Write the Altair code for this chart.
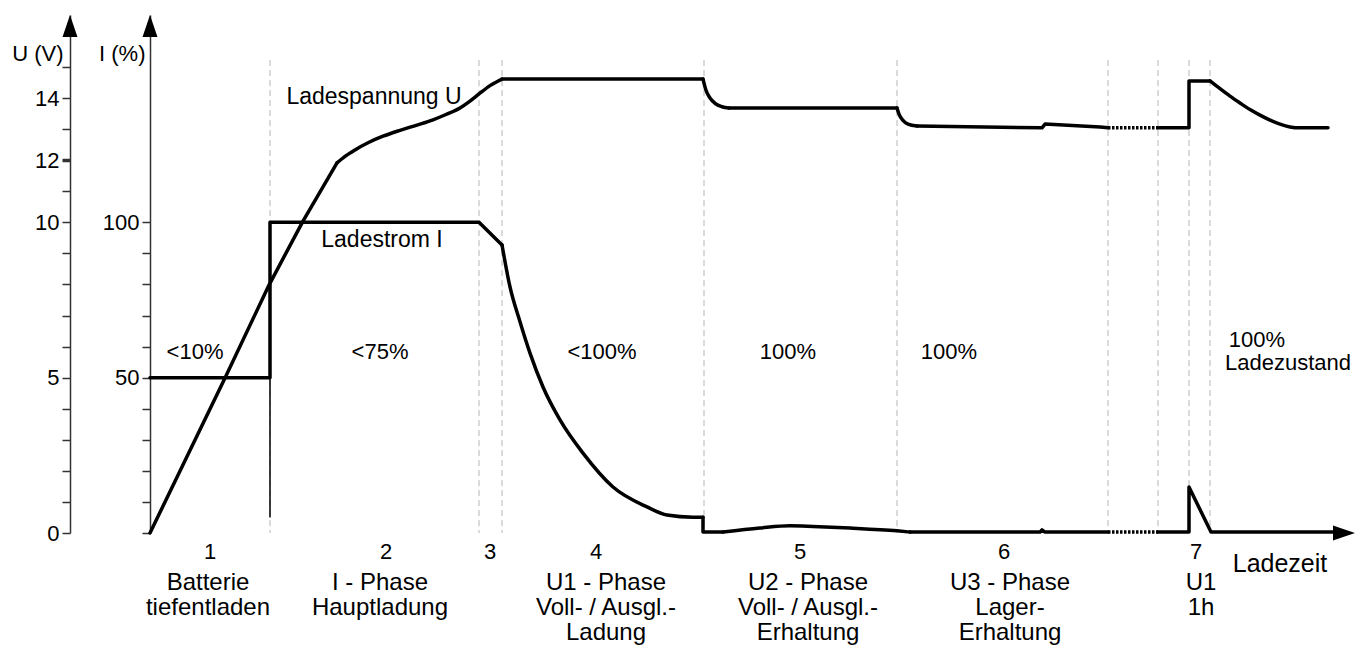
import altair as alt
import pandas as pd

FONT = "Liberation Sans"

# ---- axes geometry in data units (time units / volts) ----
X_MIN, X_MAX = -8.0, 120.5
Y_MAX = 16.672
DASH_TOP = 15.22

# phase boundaries (time units)
BOUNDS = [12.0, 32.9, 35.2, 55.4, 74.7, 95.8, 100.8, 103.9, 106.0]
TICKS_X = [12.0, 32.9, 35.2, 55.4, 74.7, 103.9, 106.0]

# ---- Ladespannung U (V): pieces, "L" = straight, "S" = smooth ----
U_SEGS = [
    ("L", [0.0, 7.5, 11.9, 15.3, 18.7], [0.0, 4.99, 7.98, 10.04, 11.91]),
    ("S", [18.7, 19.5, 20.5, 21.8, 23.3, 25.0, 26.7, 28.3, 29.6, 31.0, 32.0, 32.9, 34.0, 35.2],
          [11.91, 12.12, 12.33, 12.56, 12.77, 12.96, 13.13, 13.30, 13.47, 13.68, 13.90, 14.13, 14.40, 14.61]),
    ("L", [35.2, 55.3], [14.61, 14.61]),
    ("S", [55.3, 55.6, 56.0, 56.5, 57.2, 57.9], [14.61, 14.25, 14.00, 13.83, 13.72, 13.68]),
    ("L", [57.9, 74.7], [13.68, 13.68]),
    ("S", [74.7, 74.9, 75.3, 75.8, 76.7], [13.68, 13.48, 13.28, 13.16, 13.10]),
    ("L", [76.7, 89.2, 89.5, 95.0, 95.8], [13.10, 13.04, 13.16, 13.07, 13.04]),
    ("L", [100.8, 103.9, 103.9, 106.0], [13.04, 13.04, 14.55, 14.55]),
    ("S", [106.0, 107.0, 108.0, 109.0, 110.0, 111.0, 112.0, 113.0, 114.0, 115.0, 117.8],
          [14.55, 14.30, 14.06, 13.84, 13.63, 13.45, 13.29, 13.16, 13.07, 13.04, 13.04]),
]
DOT_X = [95.8, 100.8]
U_DOT = [13.04, 13.04]

# ---- Ladestrom I (%) ----
I_SEGS = [
    ("L", [0.0, 12.0, 12.0, 32.9, 35.2], [50, 50, 100, 100, 92.7]),
    ("S", [35.2, 36.0, 37.0, 38.0, 39.3, 41.0, 43.3, 46.3, 49.7, 51.7, 54.3, 55.3],
          [92.7, 79.2, 68.0, 57.9, 47.0, 36.4, 25.7, 14.8, 8.4, 5.8, 5.1, 5.1]),
    ("L", [55.3, 55.3, 57.3], [5.1, 0.3, 0.3]),
    ("S", [57.3, 61.0, 64.0, 66.3, 70.0, 74.7, 76.0], [0.3, 1.6, 2.3, 2.1, 1.6, 0.7, 0.3]),
    ("L", [76.0, 89.0, 89.2, 89.5, 95.8], [0.3, 0.3, 1.0, 0.3, 0.3]),
    ("L", [100.8, 103.9, 103.9, 106.1, 118.3], [0.3, 0.3, 14.8, 0.3, 0.3]),
]
I_DOT = [0.3, 0.3]
THIN_I = [50, 5]   # thin vertical at first boundary

# ---- texts ----
PCT_TEXT = ["<10%", "<75%", "<100%", "100%", "100%", "100%", "Ladezustand"]
PCT_T = [4.5, 23.0, 45.2, 63.8, 79.9, 110.7, 113.8]
PCT_V = [5.83, 5.83, 5.83, 5.83, 5.83, 6.21, 5.47]

CURVE_TEXT = ["Ladespannung U", "Ladestrom I"]
CURVE_T = [22.4, 23.2]
CURVE_V = [14.03, 9.43]

NUM_TEXT = ["1", "2", "3", "4", "5", "6", "7"]
NUM_T = [6.0, 23.6, 34.0, 44.6, 65.0, 85.4, 104.6]
NUM_V = -0.84

PHASE_TEXT = ["Batterie\ntiefentladen", "I - Phase\nHauptladung", "U1 - Phase\nVoll- / Ausgl.-\nLadung",
              "U2 - Phase\nVoll- / Ausgl.-\nErhaltung", "U3 - Phase\nLager-\nErhaltung", "U1\n1h"]
PHASE_T = [5.8, 23.0, 45.6, 65.8, 86.0, 105.1]
PHASE_V = -1.83

XLABEL_T, XLABEL_V = 113.0, -1.26

xs = alt.Scale(domain=[X_MIN, X_MAX], nice=False, zero=False)
ys = alt.Scale(domain=[0, Y_MAX], nice=False, zero=False)


def seg_frame(segs):
    rows = []
    for k, (mode, xv, yv) in enumerate(segs):
        for j, (a, b) in enumerate(zip(xv, yv)):
            rows.append({"t": a, "v": b, "seg": k, "mode": mode, "i": j})
    return pd.DataFrame(rows)


def plain(xv, yv):
    return pd.DataFrame({"t": xv, "v": yv, "i": list(range(len(xv)))})


u_df = seg_frame(U_SEGS)
i_df = seg_frame(I_SEGS)
u_dot = plain(DOT_X, U_DOT)
i_dot = plain(DOT_X, I_DOT)

AX = "#333333"

x_axis = alt.Axis(values=TICKS_X, labels=False, tickSize=8, grid=False, title=None,
                  domainColor=AX, tickColor=AX, domainWidth=1.5, tickWidth=1.5)

u_axis = alt.Axis(values=list(range(16)),
                  labelExpr="indexof([0,5,10,12,14], datum.value) >= 0 ? datum.label : ''",
                  tickSize=8, grid=False, labelFont=FONT, labelFontSize=22, labelColor="black",
                  labelPadding=3, domainColor=AX, tickColor=AX, domainWidth=1.5,
                  tickWidth={"condition": {"test": "datum.value == 12", "value": 3.5}, "value": 1.5},
                  title="U (V)", titleAngle=0, titleAlign="right", titleBaseline="middle",
                  titleX=-7, titleY=38, titleFont=FONT, titleFontSize=22, titleFontWeight="normal",
                  titleColor="black")

i_axis = alt.Axis(orient="left", offset=-80, values=list(range(11)),
                  labelExpr="datum.value == 5 ? '50' : datum.value == 10 ? '100' : ''",
                  tickSize=8, grid=False, labelFont=FONT, labelFontSize=22, labelColor="black",
                  labelPadding=3, domainColor=AX, tickColor=AX, domainWidth=1.5,
                  tickWidth=1.5,
                  title="I (%)", titleAngle=0, titleAlign="right", titleBaseline="middle",
                  titleX=-5, titleY=38, titleFont=FONT, titleFontSize=22, titleFontWeight="normal",
                  titleColor="black")

LINE = dict(color="black", strokeWidth=3.5, strokeJoin="round", strokeCap="round")

u_lin = alt.Chart(u_df).transform_filter("datum.mode == 'L'").mark_line(**LINE).encode(
    x=alt.X("t:Q", scale=xs, axis=x_axis),
    y=alt.Y("v:Q", scale=ys, axis=u_axis),
    detail="seg:N", order="i:Q")
u_smooth = alt.Chart(u_df).transform_filter("datum.mode == 'S'").mark_line(
    interpolate="monotone", **LINE).encode(
    x=alt.X("t:Q", scale=xs, axis=None), y=alt.Y("v:Q", scale=ys, axis=None),
    detail="seg:N", order="i:Q")

u_dotted = alt.Chart(u_dot).mark_line(color="black", strokeWidth=3.5, strokeDash=[2.5, 1.5]).encode(
    x=alt.X("t:Q", scale=xs, axis=None), y=alt.Y("v:Q", scale=ys, axis=None), order="i:Q")

i_lin = alt.Chart(i_df).transform_filter("datum.mode == 'L'").transform_calculate(
    iv="datum.v / 10").mark_line(**LINE).encode(
    x=alt.X("t:Q", scale=xs, axis=None),
    y=alt.Y("iv:Q", scale=ys, axis=i_axis),
    detail="seg:N", order="i:Q")
i_smooth = alt.Chart(i_df).transform_filter("datum.mode == 'S'").transform_calculate(
    iv="datum.v / 10").mark_line(interpolate="monotone", **LINE).encode(
    x=alt.X("t:Q", scale=xs, axis=None), y=alt.Y("iv:Q", scale=ys, axis=None),
    detail="seg:N", order="i:Q")

i_dotted = alt.Chart(i_dot).transform_calculate(iv="datum.v / 10").mark_line(
    color="black", strokeWidth=3.5, strokeDash=[2.5, 1.5]).encode(
    x=alt.X("t:Q", scale=xs, axis=None), y=alt.Y("iv:Q", scale=ys, axis=None), order="i:Q")

dash_df = pd.DataFrame({"t": BOUNDS, "top": [DASH_TOP] * len(BOUNDS), "bot": [0.0] * len(BOUNDS)})
dashes = alt.Chart(dash_df).mark_rule(color="#b5b5b5", strokeWidth=1, strokeDash=[6, 4]).encode(
    x=alt.X("t:Q", scale=xs, axis=None), y=alt.Y("top:Q", scale=ys, axis=None), y2="bot:Q")

thin_df = pd.DataFrame({"t": [BOUNDS[0]], "a": [THIN_I[0]], "b": [THIN_I[1]]})
thin = alt.Chart(thin_df).transform_calculate(a2="datum.a / 10", b2="datum.b / 10").mark_rule(
    color="black", strokeWidth=1.5).encode(
    x=alt.X("t:Q", scale=xs, axis=None), y=alt.Y("a2:Q", scale=ys, axis=None), y2="b2:Q")

UP = "M0,0L0.68,2L-0.68,2Z"
RIGHT = "M0,0L-2,-0.68L-2,0.68Z"
arrow_df = pd.DataFrame({"t": [X_MIN, 0.0, X_MAX], "v": [Y_MAX, Y_MAX, 0.0], "d": ["up", "up", "right"]})
arrows = alt.Chart(arrow_df).mark_point(filled=True, color="black", opacity=1, size=484, strokeWidth=0).encode(
    x=alt.X("t:Q", scale=xs, axis=None), y=alt.Y("v:Q", scale=ys, axis=None),
    shape=alt.Shape("d:N", scale=alt.Scale(domain=["up", "right"], range=[UP, RIGHT]), legend=None))

pct_df = pd.DataFrame({"t": PCT_T, "v": PCT_V, "txt": PCT_TEXT})
pct = alt.Chart(pct_df).mark_text(font=FONT, fontSize=22, color="black", baseline="middle").encode(
    x=alt.X("t:Q", scale=xs, axis=None), y=alt.Y("v:Q", scale=ys, axis=None), text="txt:N")

cur_df = pd.DataFrame({"t": CURVE_T, "v": CURVE_V, "txt": CURVE_TEXT})
cur = alt.Chart(cur_df).mark_text(font=FONT, fontSize=23, color="black", baseline="middle").encode(
    x=alt.X("t:Q", scale=xs, axis=None), y=alt.Y("v:Q", scale=ys, axis=None), text="txt:N")

num_df = pd.DataFrame({"t": NUM_T, "v": [NUM_V] * len(NUM_T), "txt": NUM_TEXT})
nums = alt.Chart(num_df).mark_text(font=FONT, fontSize=22, color="black", baseline="alphabetic").encode(
    x=alt.X("t:Q", scale=xs, axis=None), y=alt.Y("v:Q", scale=ys, axis=None), text="txt:N")

ph_df = pd.DataFrame({"t": PHASE_T, "v": [PHASE_V] * len(PHASE_T), "txt": PHASE_TEXT})
phases = alt.Chart(ph_df).mark_text(font=FONT, fontSize=24, color="black", baseline="alphabetic",
                                    lineBreak="\n", lineHeight=25).encode(
    x=alt.X("t:Q", scale=xs, axis=None), y=alt.Y("v:Q", scale=ys, axis=None), text="txt:N")

xl_df = pd.DataFrame({"t": [XLABEL_T], "v": [XLABEL_V], "txt": ["Ladezeit"]})
xlabel = alt.Chart(xl_df).mark_text(font=FONT, fontSize=25, color="black", baseline="alphabetic").encode(
    x=alt.X("t:Q", scale=xs, axis=None), y=alt.Y("v:Q", scale=ys, axis=None), text="txt:N")

chart = alt.layer(
    dashes, thin, u_lin, u_smooth, u_dotted, i_lin, i_smooth, i_dotted, arrows,
    pct, cur, nums, phases, xlabel
).resolve_axis(y="independent").properties(
    width=1285, height=518,
    autosize=alt.AutoSizeParams(type="none"),
    padding={"left": 62, "top": 7, "right": 4, "bottom": 113},
    background="white",
).configure_view(stroke=None)

chart.save("out.html", embed_options={"renderer": "svg", "actions": False})
